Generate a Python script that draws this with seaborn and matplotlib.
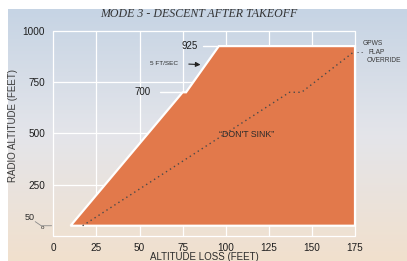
import numpy as np
import pandas as pd
import matplotlib
matplotlib.use("Agg")
import matplotlib.pyplot as plt
import seaborn as sns

# DATA

envelope_x = [10, 75, 77, 96, 175, 175]
envelope_y = [50, 700, 700, 925, 925, 50]

flap_x = [17, 137, 144, 174]
flap_y = [50, 700, 700, 895]

x_ticks = [0, 25, 50, 75, 100, 125, 150, 175]
y_ticks = [250, 500, 750, 1000]

# STYLE

sns.set_style("white")
plt.rcParams['font.family'] = ['Liberation Sans', 'DejaVu Sans']

fig = plt.figure(figsize=(4.07, 2.61), dpi=100)
fig.patch.set_facecolor("white")

# BACKGROUND GRADIENT PANEL

bg = fig.add_axes([8 / 407, 0, 399 / 407, 252 / 261])
top = np.array([198, 212, 228]) / 255
mid = np.array([228, 229, 234]) / 255
bot = np.array([241, 224, 205]) / 255
t = np.linspace(0, 1, 256)[:, None]
grad = np.where(t < 0.5, top + (mid - top) * (t / 0.5), mid + (bot - mid) * ((t - 0.5) / 0.5))
bg.imshow(grad[:, None, :], aspect="auto", extent=[0, 1, 0, 1])
bg.set_axis_off()

# MAIN AXES

ax = fig.add_axes([53.3 / 407, 1 - 236 / 261, 301.7 / 407, 205.3 / 261])
ax.patch.set_alpha(0)
ax.set_xlim(0, 175)
ax.set_ylim(0, 1000)
for s in ax.spines.values():
    s.set_visible(False)

ax.set_xticks(x_ticks)
ax.set_yticks(y_ticks)
ax.tick_params(axis="both", colors="white", labelcolor="#1e1e1e", labelsize=7.2,
               length=3, width=1, pad=3)
ax.tick_params(axis="x", length=4, pad=0.8)

# grid
for xv in x_ticks:
    ax.plot([xv, xv], [0, 1000], color="white", lw=0.9, zorder=1, clip_on=False)
for yv in [0] + y_ticks:
    ax.plot([0, 175], [yv, yv], color="white", lw=0.9, zorder=1, clip_on=False)

# envelope
ax.fill(envelope_x, envelope_y, facecolor="#e2794b", edgecolor="white",
        linewidth=1.6, zorder=2, clip_on=False)

# flap override line
flap = pd.DataFrame({"x": flap_x, "y": flap_y})
sns.lineplot(data=flap, x="x", y="y", ax=ax, color="#4a4a4a", lw=1.0,
             linestyle=(0, (1, 2.4)), sort=False, zorder=3)

# ANNOTATIONS

ax.text(112, 496, "\u201cDON'T SINK\u201d", fontsize=6.3, color="#2b2b2b",
        ha="center", va="center", zorder=4)

ax.plot([87, 95], [925, 925], color="white", lw=1, zorder=1)
ax.text(79, 925, "925", fontsize=7, color="#1e1e1e", ha="center", va="center")

ax.plot([62, 74], [700, 700], color="white", lw=1, zorder=1)
ax.text(52, 700, "700", fontsize=7, color="#1e1e1e", ha="center", va="center")

ax.text(64, 840, "5 FT/SEC", fontsize=4.6, color="#2b2b2b", ha="center", va="center")
ax.annotate("", xy=(87, 834), xytext=(77, 838),
            arrowprops=dict(arrowstyle="-|>", color="#222222", lw=0.8,
                            mutation_scale=7))

ax.text(-13.5, 92, "50", fontsize=6.5, color="#2b2b2b", ha="center", va="center",
        clip_on=False)
ax.plot([-10.5, -7, -1], [70, 50, 50], color="#8a8a8a", lw=0.6, clip_on=False)
ax.text(-6, 42, "o", fontsize=4.5, color="#2b2b2b", ha="center", va="center",
        clip_on=False)

ax.text(185.5, 940, "GPWS", fontsize=4.8, color="#3a3a3a", ha="center", va="center",
        clip_on=False)
ax.text(178, 894, "- -", fontsize=4.8, color="#3a3a3a", ha="center", va="center",
        clip_on=False)
ax.text(187.5, 894, "FLAP", fontsize=4.8, color="#3a3a3a", ha="center", va="center",
        clip_on=False)
ax.text(191.5, 853, "OVERRIDE", fontsize=4.8, color="#3a3a3a", ha="center",
        va="center", clip_on=False)

# LABELS

ax.set_xlabel("ALTITUDE LOSS (FEET)", fontsize=7, color="#2b2b2b")
ax.xaxis.set_label_coords(0.5, -0.077)
ax.set_ylabel("RADIO ALTITUDE (FEET)", fontsize=7, color="#3a3a3a")
ax.yaxis.set_label_coords(-0.117, 0.536)

fig.text(199 / 407, 1 - 14 / 261, "MODE 3 - DESCENT AFTER TAKEOFF",
         family="Liberation Serif", style="italic", fontsize=8.6, color="#333333",
         ha="center", va="center")

plt.savefig("out.png", dpi=100)
plt.close()
